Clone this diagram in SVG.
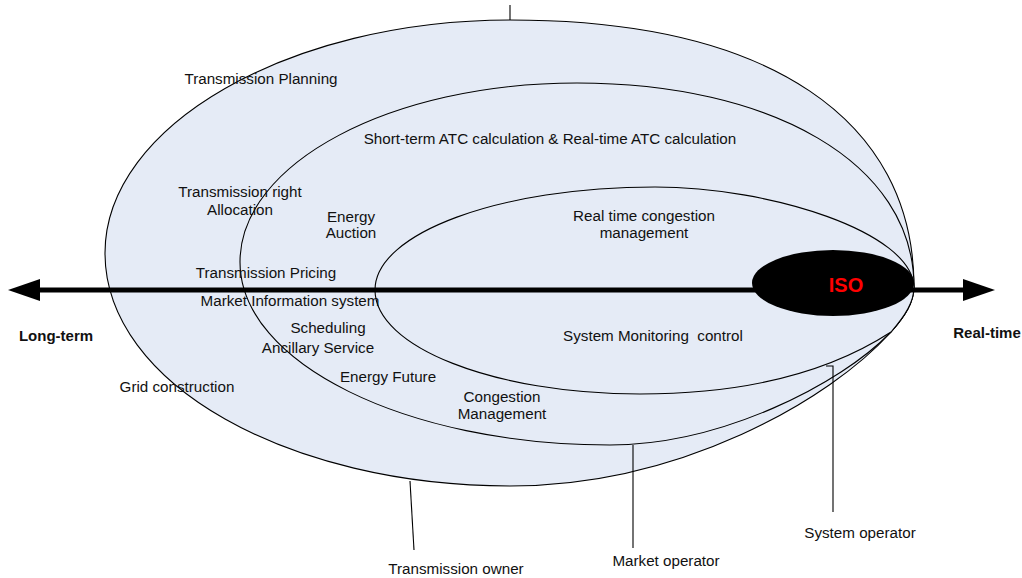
<svg xmlns="http://www.w3.org/2000/svg" width="1022" height="578" viewBox="0 0 1022 578">
  <style>
    .zone { fill: #E5EBF6; stroke: #000; stroke-width: 1.1; }
    .lead { fill: none; stroke: #000; stroke-width: 1.1; }
    .lbl { font-family: "Liberation Sans", Arial, sans-serif; font-size: 15.2px; fill: #111; text-anchor: middle; white-space: pre; }
    .axis-lbl { font-family: "Liberation Sans", Arial, sans-serif; font-size: 15px; font-weight: bold; fill: #111; text-anchor: middle; }
    .iso { font-family: "Liberation Sans", Arial, sans-serif; font-size: 20px; font-weight: bold; fill: #FF0000; text-anchor: middle; }
  </style>
  <defs>
    <marker id="head" viewBox="0 0 32 22" refX="0" refY="11" markerWidth="32" markerHeight="22" markerUnits="userSpaceOnUse" orient="auto-start-reverse">
      <path d="M0,0 L32,11 L0,22 Z" fill="#000"/>
    </marker>
  </defs>
  <rect width="1022" height="578" fill="#fff"/>

  <!-- nested responsibility zones, all meeting at the real-time end -->
  <g id="transmission-owner-zone">
    <path class="zone" d="M914,287 C914,120 770,20 510,20 C290,20 105,125 105,253 C105,385 290,486 510,486 C680,486 830,400 891,332 C905,316 914,302 914,287 Z"/>
  </g>
  <g id="market-operator-zone">
    <path class="zone" d="M914,287 C914,162 770,83 577,83 C391,83 240,163 240,262 C240,363 406,445 610,445 C720,445 840,385 891,332 C905,316 914,302 914,287 Z"/>
  </g>
  <g id="system-operator-zone">
    <path class="zone" d="M914,287 C912,232 770,187 655,187 C500,187 375,233 375,290 C375,347 494,394 640,394 C730,394 820,378 891,332 C905,316 914,302 914,287 Z"/>
  </g>

  <!-- time axis and leader lines -->
  <g id="connectors">
    <line x1="40" y1="290" x2="963" y2="290" stroke="#000" stroke-width="5" marker-start="url(#head)" marker-end="url(#head)"/>
    <path class="lead" d="M510,5 L510,20"/>
    <path class="lead" d="M410,481 L414,550"/>
    <path class="lead" d="M633,445 L633,548"/>
    <path class="lead" d="M826,366 L833,366 L833,512"/>
  </g>

  <g id="iso">
    <ellipse cx="833" cy="283" rx="81" ry="33" fill="#000"/>
    <text class="iso" x="846" y="292">ISO</text>
  </g>

  <g id="labels">
    <text class="lbl" x="261" y="84">Transmission Planning</text>
    <text class="lbl" x="550" y="144">Short-term ATC calculation &amp; Real-time ATC calculation</text>
    <text class="lbl" x="240" y="197">Transmission right</text>
    <text class="lbl" x="240" y="215">Allocation</text>
    <text class="lbl" x="351" y="222">Energy</text>
    <text class="lbl" x="351" y="238">Auction</text>
    <text class="lbl" x="644" y="221">Real time congestion</text>
    <text class="lbl" x="644" y="238">management</text>
    <text class="lbl" x="266" y="278">Transmission Pricing</text>
    <text class="lbl" x="290" y="306">Market Information system</text>
    <text class="lbl" x="328" y="333">Scheduling</text>
    <text class="lbl" x="318" y="353">Ancillary Service</text>
    <text class="lbl" x="653" y="341">System Monitoring  control</text>
    <text class="lbl" x="388" y="382">Energy Future</text>
    <text class="lbl" x="177" y="392">Grid construction</text>
    <text class="lbl" x="502" y="402">Congestion</text>
    <text class="lbl" x="502" y="419">Management</text>
    <text class="axis-lbl" x="56" y="341">Long-term</text>
    <text class="axis-lbl" x="987" y="338">Real-time</text>
    <text class="lbl" x="860" y="538">System operator</text>
    <text class="lbl" x="666" y="566">Market operator</text>
    <text class="lbl" x="456" y="574">Transmission owner</text>
  </g>
</svg>
